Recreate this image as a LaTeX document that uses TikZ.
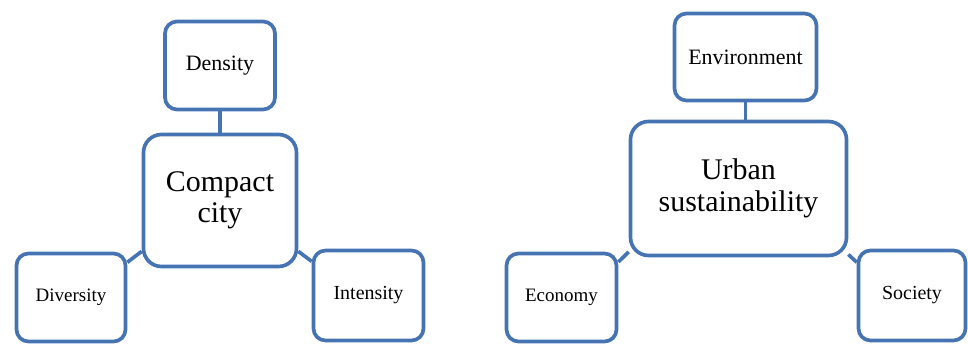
\documentclass[tikz,border=0pt]{standalone}
\usepackage{fontspec}
\setmainfont{Liberation Serif}
\usepackage{tikz}
\definecolor{boxblue}{RGB}{70,115,178}

\begin{document}
\begin{tikzpicture}[
    leaf/.style={draw=boxblue, line width=2.6pt, rounded corners=0.3cm, fill=white,
        minimum width=2.75cm, minimum height=2.2cm, align=center,
        font=\fontsize{14.2pt}{16pt}\selectfont},
    hub/.style={draw=boxblue, line width=2.6pt, rounded corners=0.45cm, fill=white,
        align=center, font=\fontsize{21.3pt}{22.4pt}\selectfont},
    link/.style={draw=boxblue, line width=2.6pt}
  ]
    \useasboundingbox (0,0) rectangle (24.2,8.625);
    % compact city
    \node[hub, minimum width=3.825cm, minimum height=3.3cm] (cc) at (5.5,3.6125) {Compact\\city};
    \node[leaf, font=\fontsize{15.6pt}{17pt}\selectfont] (dens) at (5.5,6.9875) {Density};
    \node[leaf, minimum width=2.725cm, font=\fontsize{13.5pt}{15pt}\selectfont] (div) at (1.775,1.1875) {Diversity};
    \node[leaf, minimum height=2.25cm] (int) at (9.2125,1.2375) {Intensity};
    \draw[link] (dens) -- (cc);
    \draw[link] (div.32) -- (cc.213);
    \draw[link] (int.149) -- (cc.327);
    % urban sustainability
    \node[hub, minimum width=5.4cm, minimum height=3.35cm] (us) at (18.4625,3.9125) {Urban\\sustainability};
    \node[leaf, minimum width=3.55cm, minimum height=2.175cm, font=\fontsize{15.6pt}{17pt}\selectfont] (env) at (18.6375,7.2) {Environment};
    \node[leaf, font=\fontsize{13.5pt}{15pt}\selectfont] (eco) at (14.0375,1.1875) {Economy};
    \node[leaf, minimum width=2.675cm, minimum height=2.25cm] (soc) at (22.8,1.2375) {Society};
    \draw[link] (env) -- (env |- us.north);
    \draw[link] (eco.32) -- (us.210);
    \draw[link] (soc.149) -- (us.329);
\end{tikzpicture}
\end{document}
